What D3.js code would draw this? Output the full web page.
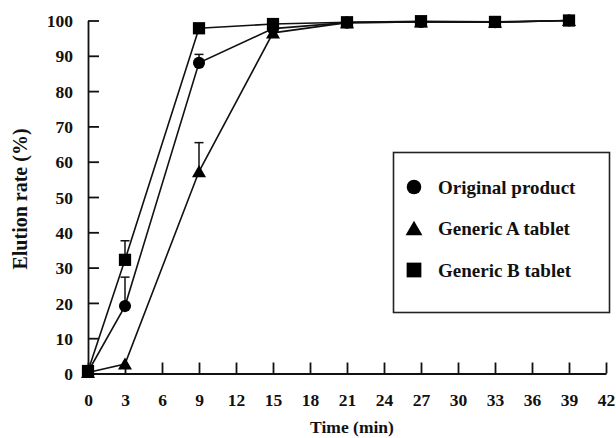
<!DOCTYPE html>
<html><head><meta charset="utf-8">
<script src="https://cdn.jsdelivr.net/npm/d3@7"></script>
<style>body{margin:0;background:#fff}svg{display:block}text{font-family:"Liberation Serif","Times New Roman",serif;font-weight:bold;fill:#111}</style>
</head><body>
<script>
const times = [0, 3, 9, 15, 21, 27, 33, 39];
const original = [0.5, 19.1, 88.0, 97.7, 99.4, 99.6, 99.5, 100];
const originalErr = [0, 8.2, 2.4, 0, 0, 0, 0, 0];
const genericA = [0.3, 2.7, 57.2, 96.5, 99.4, 99.6, 99.5, 100];
const genericAErr = [0, 0, 8.2, 0, 0, 0, 0, 0];
const genericB = [0.7, 32.2, 97.8, 99.0, 99.5, 99.8, 99.6, 100];
const genericBErr = [0, 5.4, 0, 0, 0, 0, 0, 0];
const seriesNames = ["Original product", "Generic A tablet", "Generic B tablet"];
const xTicks = d3.range(0, 43, 3);
const yTicks = d3.range(0, 101, 10);

const W = 616, H = 438;
const svg = d3.select("body").append("svg").attr("width", W).attr("height", H);
const x = d3.scaleLinear().domain([0, 42]).range([88, 606]);
const y = d3.scaleLinear().domain([0, 100]).range([373.5, 20.5]);

// axes
const yAxis = d3.axisLeft(y).tickValues(yTicks).tickSize(-11).tickPadding(15).tickSizeOuter(0);
const gy = svg.append("g").attr("transform", `translate(${x(0)},0)`).call(yAxis);
const xAxis = d3.axisBottom(x).tickValues(xTicks).tickSize(-11).tickPadding(20).tickSizeOuter(0);
const gx = svg.append("g").attr("transform", `translate(0,${y(0)})`).call(xAxis);
[gx, gy].forEach(g => {
  g.select(".domain").attr("stroke", "#111").attr("stroke-width", 1.8);
  g.selectAll(".tick line").attr("stroke", "#111").attr("stroke-width", 1.8);
  g.selectAll(".tick text").attr("font-size", 17.5).attr("font-family", "Liberation Serif").attr("font-weight", "bold").attr("fill", "#111");
});
gy.selectAll(".tick text").attr("text-anchor", "end").attr("dy", "0.35em");
gx.selectAll(".tick text").attr("dy", "0.71em");

svg.append("text").attr("x", 352).attr("y", 433).attr("text-anchor", "middle").attr("font-size", 17.5).text("Time (min)");
svg.append("text").attr("transform", "translate(27,199) rotate(-90)").attr("text-anchor", "middle").attr("font-size", 20).text("Elution rate (%)");

const data = [
  {name: seriesNames[0], vals: original, err: originalErr, shape: d3.symbolCircle, size: 115},
  {name: seriesNames[1], vals: genericA, err: genericAErr, shape: d3.symbolTriangle, size: 85},
  {name: seriesNames[2], vals: genericB, err: genericBErr, shape: d3.symbolSquare, size: 150}
];
const line = d3.line().x(d => x(d[0])).y(d => y(d[1]));

data.forEach(s => {
  const pts = times.map((t, i) => [t, s.vals[i], s.err[i]]);
  svg.append("path").datum(pts).attr("d", line).attr("fill", "none").attr("stroke", "#111").attr("stroke-width", 1.6);
  const eb = svg.append("g");
  pts.filter(p => p[2] > 0).forEach(p => {
    eb.append("line").attr("x1", x(p[0])).attr("x2", x(p[0])).attr("y1", y(p[1])).attr("y2", y(p[1] + p[2])).attr("stroke", "#111").attr("stroke-width", 1.5);
    eb.append("line").attr("x1", x(p[0]) - 4.5).attr("x2", x(p[0]) + 4.5).attr("y1", y(p[1] + p[2])).attr("y2", y(p[1] + p[2])).attr("stroke", "#111").attr("stroke-width", 1.5);
  });
});
data.forEach(s => {
  const pts = times.map((t, i) => [t, s.vals[i]]);
  svg.append("g").selectAll("path").data(pts).join("path")
    .attr("d", d3.symbol().type(s.shape).size(s.size))
    .attr("transform", d => `translate(${x(d[0])},${y(d[1]) + (s.shape === d3.symbolTriangle ? 1.5 : 0)})`)
    .attr("fill", "#000");
});

// legend
const lg = svg.append("g");
lg.append("rect").attr("x", 393.5).attr("y", 152.5).attr("width", 216).attr("height", 160)
  .attr("fill", "#fff").attr("stroke", "#222").attr("stroke-width", 1.6);
data.forEach((s, i) => {
  const cy = 187 + i * 41.5;
  lg.append("path").attr("d", d3.symbol().type(s.shape).size(s.size * 1.45)).attr("transform", `translate(414,${cy + (s.shape === d3.symbolTriangle ? 2 : 0)})`).attr("fill", "#000");
  lg.append("text").attr("x", 438).attr("y", cy + 6.5).attr("font-size", 19).text(s.name);
});
</script>
</body></html>
